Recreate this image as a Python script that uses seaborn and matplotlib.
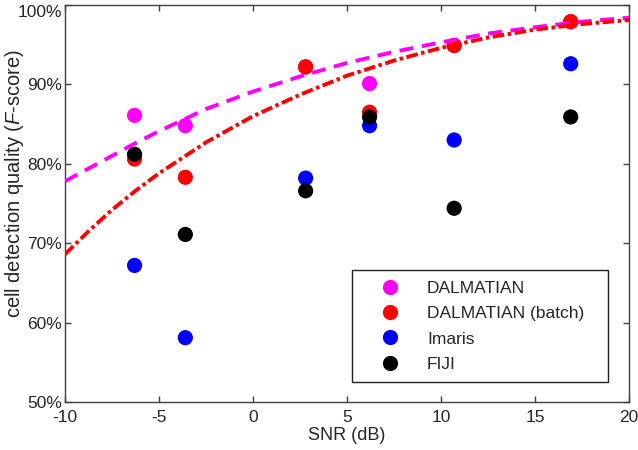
import pandas as pd
import matplotlib
matplotlib.use('Agg')
import matplotlib.pyplot as plt
import seaborn as sns
from matplotlib.ticker import PercentFormatter

# measured points (F-score in %)
snr = [-6.3, -3.6, 2.8, 6.2, 10.7, 16.9]
dalmatian = [86.1, 84.8, 92.2, 90.1, 94.9, 97.9]
dalmatian_batch = [80.6, 78.3, 92.2, 86.5, 94.9, 97.9]
imaris = [67.2, 58.1, 78.2, 84.8, 83.0, 92.6]
fiji = [81.2, 71.1, 76.6, 85.9, 74.4, 85.9]

# fitted curves
fit_snr = [-10, -8.75, -7.5, -6.25, -5, -2.5, 0, 2.5, 5, 7.5, 10, 12.5, 15, 17.5, 20]
fit_dalmatian = [77.8, 79.4, 81.0, 82.6, 84.1, 86.9, 89.1, 91.0, 92.7, 94.1, 95.3, 96.4, 97.2, 97.9, 98.4]
fit_batch = [68.6, 71.5, 74.2, 76.6, 78.8, 82.7, 86.0, 88.7, 91.1, 93.0, 94.6, 95.9, 96.9, 97.6, 98.1]

methods = ['DALMATIAN', 'DALMATIAN (batch)', 'Imaris', 'FIJI']
colors = ['#ff00ff', '#ff0000', '#0000ff', '#000000']

sns.set_style('ticks')
plt.rcParams['font.family'] = ['Liberation Sans', 'DejaVu Sans']
plt.rcParams['mathtext.fontset'] = 'custom'
plt.rcParams['mathtext.it'] = 'Liberation Sans:italic'
plt.rcParams['mathtext.rm'] = 'Liberation Sans'
plt.rcParams['axes.unicode_minus'] = False

df = pd.DataFrame({
    'snr': snr * 4,
    'score': dalmatian + dalmatian_batch + imaris + fiji,
    'method': [m for m in methods for _ in snr],
})

fig = plt.figure(figsize=(6.38, 4.5), dpi=100)
ax = fig.add_axes([65 / 638, 1 - 402 / 450, 564 / 638, 397 / 450])

sns.scatterplot(data=df, x='snr', y='score', hue='method', hue_order=methods,
                palette=colors, s=120, edgecolor='none', linewidth=0, ax=ax, zorder=2)

sns.lineplot(x=fit_snr, y=fit_dalmatian, color='#ff00ff', lw=2.8, ax=ax, zorder=3)
ax.lines[-1].set_linestyle((0, (3.6, 2.2)))
sns.lineplot(x=fit_snr, y=fit_batch, color='#ff0000', lw=2.8, ax=ax, zorder=3)
ax.lines[-1].set_linestyle((0, (3.0, 0.9, 0.9, 0.9)))

fs = 12.5
ax.set_xlim(-10, 20)
ax.set_ylim(50, 100)
ax.set_xticks(range(-10, 21, 5))
ax.set_yticks(range(50, 101, 10))
ax.yaxis.set_major_formatter(PercentFormatter(decimals=0))
ax.tick_params(direction='in', top=True, right=True, length=4.5, width=1,
               color='#404040', labelcolor='#262626', labelsize=fs)
ax.tick_params(axis='x', pad=6)
ax.tick_params(axis='y', pad=2)
for s in ax.spines.values():
    s.set_visible(True)
    s.set_color('#404040')
    s.set_linewidth(1)
ax.get_yticklabels()[-1].set_va('top')

ax.set_xlabel('SNR (dB)', fontsize=13, color='#262626', labelpad=1)
ax.set_ylabel('cell detection quality ($\\it{F}$-score)', fontsize=14.5,
              color='#262626')
ax.yaxis.set_label_coords(-0.07, 0.55)

handles, labels = ax.get_legend_handles_labels()
leg = ax.legend(handles, labels, loc='lower left', bbox_to_anchor=(0.509, 0.05, 0.454, 0.277),
                mode='expand', borderaxespad=0, fontsize=fs, frameon=True, fancybox=False,
                framealpha=1, edgecolor='#202020', handlelength=3.17, handletextpad=0.54,
                borderpad=0.6, labelspacing=0.58)
leg.get_frame().set_linewidth(1)

fig.savefig('out.png', dpi=100)
